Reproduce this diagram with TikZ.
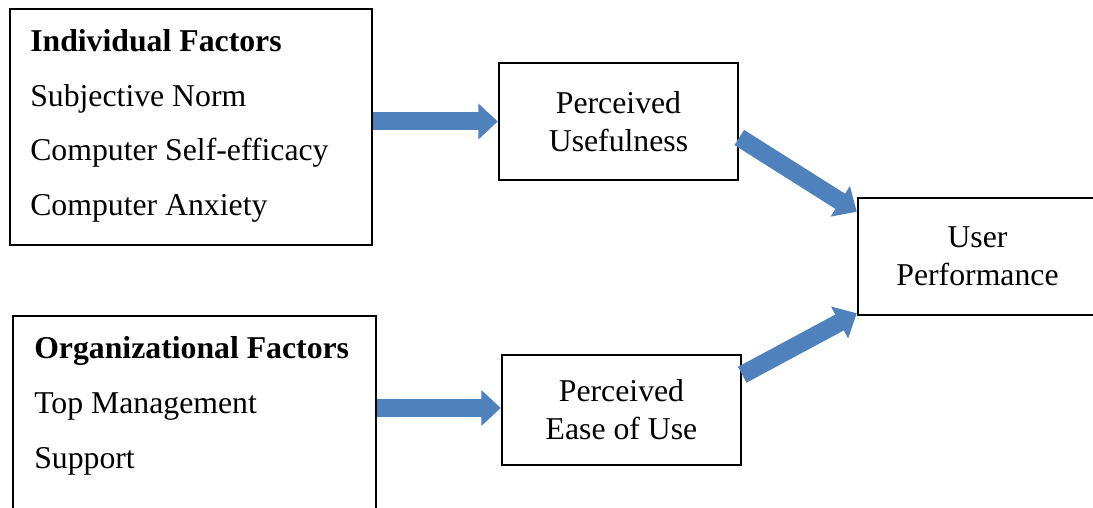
\documentclass[tikz,border=0pt]{standalone}
\usepackage{fontspec}
\setmainfont{Liberation Serif}
\usetikzlibrary{arrows.meta,calc,positioning}
\definecolor{arrowBlue}{RGB}{79,129,189}

\begin{document}
\begin{tikzpicture}[x=0.4pt,y=0.4pt,
  box/.style={draw,line width=1pt,inner sep=0pt},
  label/.style={box,align=center,font=\fontsize{12.7}{15.2}\selectfont},
  item/.style={anchor=base west,inner sep=0pt,font=\fontsize{12.7}{15.2}\selectfont},
  fat/.style={arrowBlue,line width=7.2pt,-{Triangle[width=14pt,length=7.8pt]}}]

\def\px{0.4pt}
\path[use as bounding box,clip] (0,0) rectangle (1093,507);

% the factor boxes
\node[box,minimum width={362*\px},minimum height={236*\px}] (ind) at (191,380) {};
\node[box,minimum width={363*\px},minimum height={236*\px}] (org) at (194.5,73) {};

% the model boxes
\node[label,minimum width={239*\px},minimum height={117*\px}] (pu) at (618.5,385.5) {Perceived\\Usefulness};
\node[label,minimum width={239*\px},minimum height={110*\px}] (peou) at (621.5,97) {Perceived\\Ease of Use};
\node[label,minimum width={239*\px},minimum height={117*\px}] (up) at (977.5,250.5) {User\\Performance};

% the factor lists
\node[item,font=\fontsize{12.7}{15.2}\selectfont\bfseries] (indhead) at ($(ind.north west)+(21,-44)$) {Individual Factors};
\foreach \t [count=\i] in {Subjective Norm, Computer Self-efficacy, Computer Anxiety}
  \node[item] (ind\i) at ($(ind.north west)+(21,{-44-54.5*\i})$) {\t};

\node[item,font=\fontsize{12.7}{15.2}\selectfont\bfseries] (orghead) at ($(org.north west)+(22,-44)$) {Organizational Factors};
\foreach \t/\dy [count=\i] in {Top Management/99, Support/154}
  \node[item] (org\i) at ($(org.north west)+(22,-\dy)$) {\t};

% the block arrows
\draw[fat] (pu.west -| ind.east) -- (pu.west);
\draw[fat] ($(peou.west -| org.east)+(0,2)$) -- ($(peou.west)+(0,2)$);
\draw[fat] ($(pu.east)+(0,-16)$) -- ($(up.north west)+(0,-15)$);
\draw[fat] ($(peou.north east)+(0,-21)$) -- ($(up.south west)+(0,3)$);

\end{tikzpicture}
\end{document}
